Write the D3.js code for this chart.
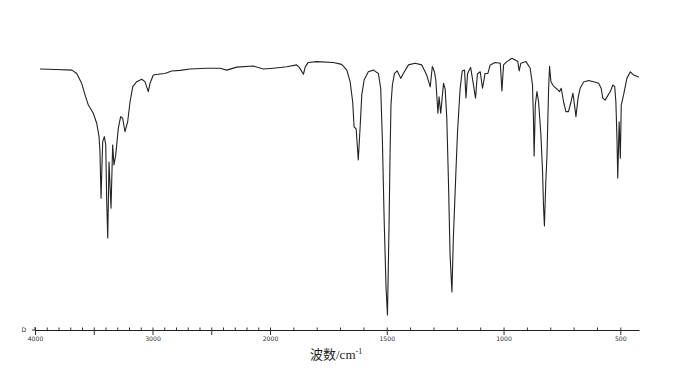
<!DOCTYPE html>
<html>
<head>
<meta charset="utf-8">
<script src="https://cdn.jsdelivr.net/npm/d3@7"></script>
<style>
  html, body { margin: 0; padding: 0; background: #fff; }
  svg { display: block; }
</style>
</head>
<body>
<svg id="chart" width="679" height="390"></svg>
<script>
// Wavenumber (cm-1)
const wavenumber = [3957,3821,3685,3645,3603,3574,3546,3504,3475,3455,3447,3438,3424,3410,3398,3390,3381,3370,3353,3339,3328,3313,3291,3271,3254,3234,3211,3191,3168,3134,3092,3064,3036,3021,2993,2936,2894,2837,2766,2681,2539,2425,2368,2283,2142,2057,
  1986,1928,1886,1874,1857,1849,1836,1800,1729,1693,1671,1657,1646,1640,1631,1622,1614,1607,1597,1579,1557,1536,1526,1519,1511,1503,1497,1490,1486,1482,1476,1467,1455,1440,1429,1407,1379,1350,1329,1314,1305,1296,1290,1281,1276,1269,1257,1250,1243,1236,1229,1221,1215,1204,1197,1193,1186,1177,1167,1161,1154,1141,1131,1120,1112,1100,1090,1079,1067,1057,1036,1014,1007,1000,986,964,939,933,926,904,886,876,872,869,864,857,850,840,833,829,825,819,814,807,803,797,786,771,760,753,743,733,722,711,703,696,690,681,672,657,636,615,593,582,575,565,543,532,524,519,514,511,505,500,496,486,472,457,443,421];
// Transmittance (%)
const transmittance = [94.9,94.7,94.5,93.3,89.7,85.5,81.8,78.8,75.2,70.3,64.8,47.9,68.5,70.3,67.3,47.3,33.5,61.1,44.3,67.3,60.0,63.6,73.3,77.6,77.0,72.1,75.8,83.0,88.5,90.3,91.2,90.3,86.7,89.7,92.7,93.1,93.3,94.2,94.4,94.9,95.2,95.2,94.5,95.6,96.0,94.9,
  95.2,95.7,96.4,95.4,93.0,95.7,97.3,97.6,97.3,96.6,94.5,90.3,83.0,73.9,73.1,61.8,73.9,85.5,90.9,93.9,94.5,93.3,87.9,69.7,39.4,15.2,5.5,39.4,63.6,81.8,89.1,93.3,94.2,91.5,93.3,96.4,97.0,96.4,92.7,88.4,95.8,93.9,90.9,78.8,84.8,78.8,89.7,87.6,77.1,54.5,27.3,13.8,33.1,57.5,72.0,77.8,87.6,94.2,94.5,84.4,93.3,95.5,90.3,84.3,93.1,93.9,87.9,93.3,93.3,96.4,97.3,97.0,86.9,96.4,97.6,98.8,97.6,94.2,97.0,97.6,95.2,89.1,77.0,63.3,81.8,86.7,83.0,70.9,57.6,45.5,37.8,53.9,63.6,87.9,95.9,90.3,88.7,87.6,86.7,87.9,83.0,79.4,79.4,83.0,86.1,81.8,77.6,84.3,87.9,90.2,90.7,90.3,89.7,87.9,84.3,83.6,86.7,89.1,88.5,83.0,68.5,55.3,75.7,62.5,81.8,85.5,91.5,93.9,92.7,92.0];
const labeledTicks = [4000, 3000, 2000, 1500, 1000, 500];
const majorTicks = [4000, 3500, 3000, 2500, 2000, 1500, 1000, 500];
const minorTicks = d3.range(4000, 419, -100);
const axisTitle = "波数/cm";
const zeroLabel = "D";

const svg = d3.select("#chart");
const x = d3.scaleLinear().domain([4000, 2000, 420]).range([35, 270, 639]);
const y = d3.scaleLinear().domain([0, 100]).range([330, 55]);

const data = wavenumber.map((w, i) => ({ w, t: transmittance[i] }));

svg.append("path")
  .datum(data)
  .attr("fill", "none")
  .attr("stroke", "#222")
  .attr("stroke-width", 1.1)
  .attr("stroke-linejoin", "round")
  .attr("d", d3.line().x(d => x(d.w)).y(d => y(d.t)));

// minor ticks (above axis line)
svg.append("g")
  .attr("transform", `translate(0,${y(0)})`)
  .call(d3.axisTop(x).tickValues(minorTicks).tickSize(2.5).tickSizeOuter(0).tickFormat(""))
  .call(g => g.select(".domain").attr("stroke", "#222"))
  .call(g => g.selectAll(".tick line").attr("stroke", "#333"));

// major ticks (below axis line) with labels
svg.append("g")
  .attr("transform", `translate(0,${y(0)})`)
  .call(d3.axisBottom(x).tickValues(majorTicks).tickSize(5).tickSizeOuter(0).tickPadding(2)
    .tickFormat(d => labeledTicks.includes(d) ? d : ""))
  .call(g => g.select(".domain").remove())
  .call(g => g.selectAll(".tick line").attr("stroke", "#333"))
  .call(g => g.selectAll(".tick text")
    .attr("font-family", "DejaVu Sans, sans-serif")
    .attr("font-size", 6.2)
    .attr("fill", "#333"));

// start tick crossing the axis
svg.append("line")
  .attr("x1", x(4000)).attr("x2", x(4000))
  .attr("y1", y(0) - 3).attr("y2", y(0))
  .attr("stroke", "#333");
svg.append("line")
  .attr("x1", x(4000) - 3).attr("x2", x(4000))
  .attr("y1", y(0)).attr("y2", y(0))
  .attr("stroke", "#333");

svg.append("text")
  .attr("x", 24).attr("y", y(0) + 1.5)
  .attr("text-anchor", "middle")
  .attr("font-family", "DejaVu Sans, sans-serif")
  .attr("font-size", 6.2)
  .attr("fill", "#333")
  .text(zeroLabel);

const title = svg.append("text")
  .attr("x", 310).attr("y", 359)
  .attr("font-family", "Liberation Serif, Noto Sans CJK SC, serif")
  .attr("font-size", 13)
  .attr("fill", "#222");
title.append("tspan").text(axisTitle);
title.append("tspan").attr("font-size", 8).attr("dy", -5).text("-1");
</script>
</body>
</html>
